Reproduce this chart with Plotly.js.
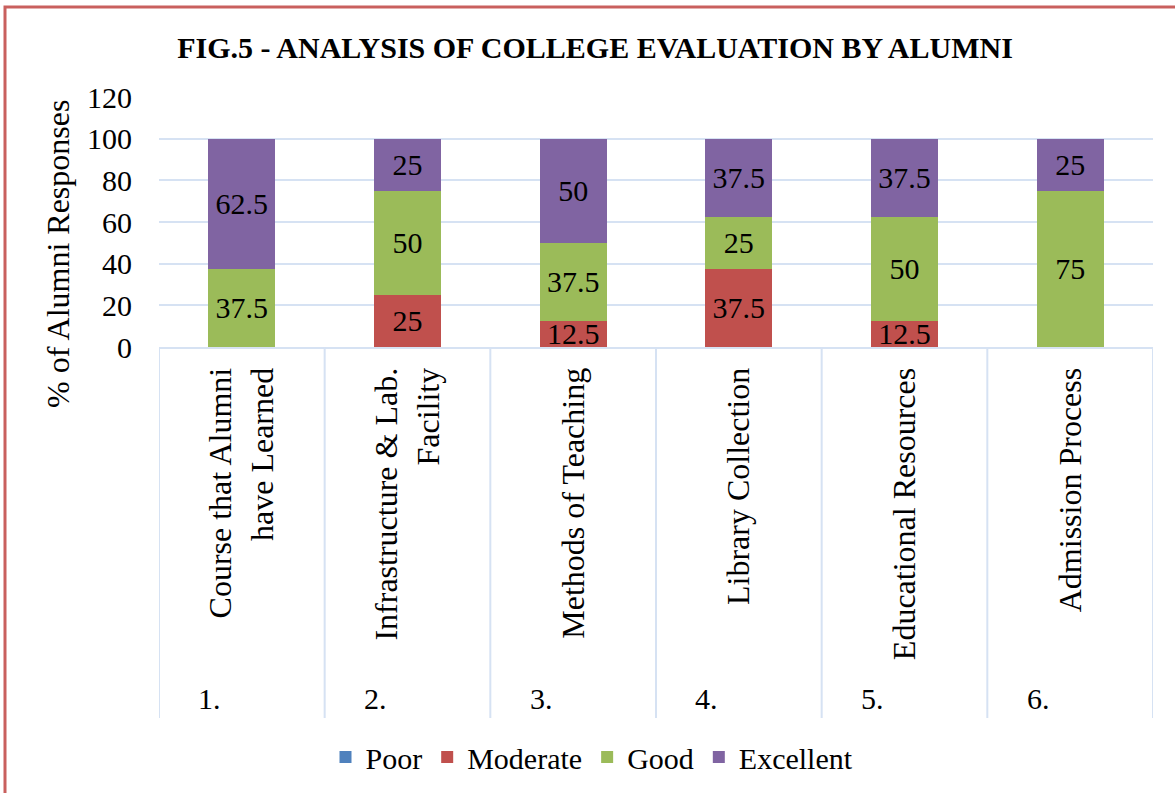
<!DOCTYPE html>
<html>
<head>
<meta charset="utf-8">
<script src="https://cdn.plot.ly/plotly-3.0.1.min.js"></script>
<style>
  body { margin: 0; background: #fff; }
  #chart { width: 1175px; height: 793px; }
</style>
</head>
<body>
<div id="chart"></div>
<script>
// Fig.5 - college evaluation by alumni (stacked %)
var categories = [
  'Course that Alumni<br>have Learned',
  'Infrastructure & Lab.<br>Facility',
  'Methods of Teaching',
  'Library Collection',
  'Educational Resources',
  'Admission Process'
];
var serials = ['1.', '2.', '3.', '4.', '5.', '6.'];

var poor      = [0, 0, 0, 0, 0, 0];
var moderate  = [0, 25, 12.5, 37.5, 12.5, 0];
var good      = [37.5, 50, 37.5, 25, 50, 75];
var excellent = [62.5, 25, 50, 37.5, 37.5, 25];

var font = 'Liberation Serif, Times New Roman, serif';
var idx = categories.map(function (c, i) { return i; });

function series(name, vals, color) {
  return {
    type: 'bar',
    name: name,
    x: idx,
    y: vals,
    text: vals.map(function (v) { return v ? String(v) : ''; }),
    textposition: 'inside',
    insidetextanchor: 'middle',
    textfont: { family: font, size: 30, color: '#000' },
    marker: { color: color },
    hoverinfo: 'y+name'
  };
}

var data = [
  series('Poor', poor, '#4F81BD'),
  series('Moderate', moderate, '#C0504D'),
  series('Good', good, '#9BBB59'),
  series('Excellent', excellent, '#8064A2')
];

var gridCol = '#D6E2F3';
var plotH = 250; // px height of plot area (for paper coords below)

var shapes = [];
for (var i = 0; i <= categories.length; i++) {
  shapes.push({
    type: 'line', xref: 'x', yref: 'paper',
    x0: i - 0.5, x1: i - 0.5, y0: 0, y1: -371 / plotH,
    line: { color: gridCol, width: 2 }
  });
}
// outer frame
shapes.push({
  type: 'rect', xref: 'paper', yref: 'paper',
  x0: -154 / 994, x1: 1.2, y0: -2, y1: 340 / plotH,
  line: { color: '#C9605E', width: 3 }, fillcolor: 'rgba(0,0,0,0)'
});

var annotations = serials.map(function (s, i) {
  return {
    x: i, xref: 'x', xshift: -32,
    y: -351 / plotH, yref: 'paper', yanchor: 'middle',
    text: s, showarrow: false,
    font: { family: font, size: 30, color: '#000' }
  };
});
annotations.push({
  x: -101 / 994, xref: 'paper', y: 93 / plotH, yref: 'paper',
  xanchor: 'center', yanchor: 'middle',
  text: '% of Alumni Responses', textangle: -90, showarrow: false,
  font: { family: font, size: 32, color: '#000' }
});

var layout = {
  width: 1175,
  height: 793,
  margin: { l: 159, r: 22, t: 97, b: 446 },
  paper_bgcolor: '#fff',
  plot_bgcolor: '#fff',
  barmode: 'stack',
  bargap: 0.595,
  showlegend: true,
  title: {
    text: '<b>FIG.5 - ANALYSIS OF COLLEGE EVALUATION BY ALUMNI</b>',
    font: { family: font, size: 30, color: '#000' },
    x: 595 / 1175, xanchor: 'center',
    y: 1 - 47 / 793, yanchor: 'middle', xref: 'container', yref: 'container'
  },
  xaxis: {
    tickmode: 'array',
    tickvals: idx,
    ticktext: categories,
    tickangle: -90,
    range: [-0.5, 5.5],
    showgrid: false,
    zeroline: false,
    showline: true,
    linecolor: gridCol,
    linewidth: 2,
    ticks: '',
    ticklabelstandoff: 6,
    tickfont: { family: font, size: 32, color: '#000' }
  },
  yaxis: {
    range: [0, 120],
    dtick: 20,
    showgrid: true,
    gridcolor: gridCol,
    gridwidth: 2,
    zeroline: false,
    showline: false,
    ticks: '',
    ticklabelstandoff: 26,
    tickfont: { family: font, size: 30, color: '#000' }
  },
  uniformtext: { mode: 'show', minsize: 30 },
  legend: {
    orientation: 'h',
    x: 592 / 1175, xanchor: 'center', xref: 'container',
    y: 1 - 757 / 793, yanchor: 'middle', yref: 'container',
    traceorder: 'normal',
    font: { family: font, size: 30, color: '#000' },
    itemwidth: 30
  },
  shapes: shapes,
  annotations: annotations
};

Plotly.newPlot('chart', data, layout, { displayModeBar: false, responsive: false });
</script>
</body>
</html>
